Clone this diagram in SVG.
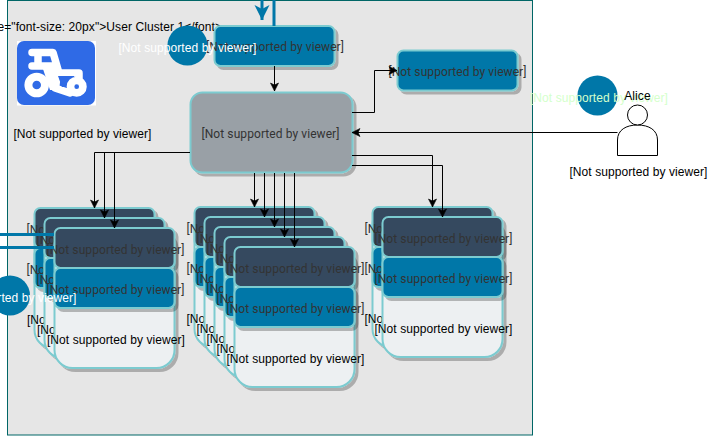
<svg xmlns="http://www.w3.org/2000/svg" width="724" height="436" viewBox="0 0 724 436">
<style>
text{font-family:"Liberation Sans",Arial,sans-serif;font-size:12px;text-anchor:middle;fill:#000;letter-spacing:0.08px}
.r{font-family:Roboto,"Liberation Sans",sans-serif;fill:#333}
.w{fill:#fff}
.g{fill:#d4ffcc}
.box{stroke:#7ccbd0;stroke-width:2;filter:url(#s)}
.lt{fill:#edf0f2}.dk{fill:#34495e}.bl{fill:#0077a8}.gy{fill:#99a0a6}
.c{fill:#0077a8}
.l{fill:none;stroke:#000;stroke-width:1}
.t{fill:none;stroke:#0077a8;stroke-width:3}
</style>
<defs>
<filter id="s" x="-10%" y="-10%" width="125%" height="130%"><feDropShadow dx="3" dy="3" stdDeviation="0.4" flood-color="#000" flood-opacity="0.25"/></filter>
<marker id="a" markerUnits="userSpaceOnUse" markerWidth="10" markerHeight="10" refX="9" refY="5" orient="auto"><path d="M1 1L9 5L1 9L3 5Z" fill="#000" stroke="#000" stroke-width="0.6"/></marker>
<marker id="b" markerUnits="userSpaceOnUse" markerWidth="18" markerHeight="18" refX="15" refY="9" orient="auto"><path d="M0 1.5L15 9L0 16.500L4 9Z" fill="#0077a8"/></marker>
</defs>
<rect id="cluster" x="7.500" y="0.500" width="525" height="434.500" fill="#e6e6e6" stroke="#006666"/>
<text id="cluster-label" x="-2.500" y="31" style="text-anchor:start">e="font-size: 20px"&gt;User Cluster 1&lt;/font&gt;</text>
<g id="icon">
<rect x="17" y="41" width="79" height="64.500" fill="#fff"/>
<rect x="17" y="41" width="78" height="64" rx="7" fill="#2f6ae6"/>
<path d="M42 66H58L61 75L59 90H50Z" fill="#fff"/>
<path d="M32 52.500H53L59 73H79V84M32 66H52L55 88L70 93M38 53V66" fill="none" stroke="#fff" stroke-width="7.500" stroke-linecap="round" stroke-linejoin="round"/>
<path d="M58 76H74V87H62Z" fill="#2f6ae6"/>
<circle cx="36.700" cy="85" r="8.300" fill="#2f6ae6" stroke="#fff" stroke-width="8"/>
<circle cx="76.700" cy="86.700" r="6.200" fill="#2f6ae6" stroke="#fff" stroke-width="7.700"/>
</g>
<text id="icon-label" x="82.500" y="138">[Not supported by viewer]</text>

<g id="stack-a-1"><rect class="box lt" x="34.500" y="208" width="120" height="140" rx="18"/><rect class="box dk" x="34.500" y="208" width="120" height="40" rx="6"/><rect class="box bl" x="34.500" y="248" width="120" height="40" rx="6"/><text class="r" x="95.500" y="234">[Not supported by viewer]</text><text class="r" x="95.500" y="274">[Not supported by viewer]</text><text x="96" y="324">[Not supported by viewer]</text></g>
<g id="stack-a-2"><rect class="box lt" x="44.500" y="218" width="120" height="140" rx="18"/><rect class="box dk" x="44.500" y="218" width="120" height="40" rx="6"/><rect class="box bl" x="44.500" y="258" width="120" height="40" rx="6"/><text class="r" x="105.500" y="244">[Not supported by viewer]</text><text class="r" x="105.500" y="284">[Not supported by viewer]</text><text x="106" y="334">[Not supported by viewer]</text></g>
<g id="stack-a-3"><rect class="box lt" x="54.500" y="228" width="120" height="140" rx="18"/><rect class="box dk" x="54.500" y="228" width="120" height="40" rx="6"/><rect class="box bl" x="54.500" y="268" width="120" height="40" rx="6"/><text class="r" x="115.500" y="254">[Not supported by viewer]</text><text class="r" x="115.500" y="294">[Not supported by viewer]</text><text x="116" y="344">[Not supported by viewer]</text></g>

<g id="stack-b-1"><rect class="box lt" x="194.500" y="207" width="120" height="140" rx="18"/><rect class="box dk" x="194.500" y="207" width="120" height="40" rx="6"/><rect class="box bl" x="194.500" y="247" width="120" height="40" rx="6"/><text class="r" x="255.500" y="233">[Not supported by viewer]</text><text class="r" x="255.500" y="273">[Not supported by viewer]</text><text x="255.500" y="323">[Not supported by viewer]</text></g>
<g id="stack-b-2"><rect class="box lt" x="204.500" y="217" width="120" height="140" rx="18"/><rect class="box dk" x="204.500" y="217" width="120" height="40" rx="6"/><rect class="box bl" x="204.500" y="257" width="120" height="40" rx="6"/><text class="r" x="265.500" y="243">[Not supported by viewer]</text><text class="r" x="265.500" y="283">[Not supported by viewer]</text><text x="265.500" y="333">[Not supported by viewer]</text></g>
<g id="stack-b-3"><rect class="box lt" x="214.500" y="227" width="120" height="140" rx="18"/><rect class="box dk" x="214.500" y="227" width="120" height="40" rx="6"/><rect class="box bl" x="214.500" y="267" width="120" height="40" rx="6"/><text class="r" x="275.500" y="253">[Not supported by viewer]</text><text class="r" x="275.500" y="293">[Not supported by viewer]</text><text x="275.500" y="343">[Not supported by viewer]</text></g>
<g id="stack-b-4"><rect class="box lt" x="224.500" y="237" width="120" height="140" rx="18"/><rect class="box dk" x="224.500" y="237" width="120" height="40" rx="6"/><rect class="box bl" x="224.500" y="277" width="120" height="40" rx="6"/><text class="r" x="285.500" y="263">[Not supported by viewer]</text><text class="r" x="285.500" y="303">[Not supported by viewer]</text><text x="285.500" y="353">[Not supported by viewer]</text></g>
<g id="stack-b-5"><rect class="box lt" x="234.500" y="247" width="120" height="140" rx="18"/><rect class="box dk" x="234.500" y="247" width="120" height="40" rx="6"/><rect class="box bl" x="234.500" y="287" width="120" height="40" rx="6"/><text class="r" x="295.500" y="273">[Not supported by viewer]</text><text class="r" x="295.500" y="313">[Not supported by viewer]</text><text x="295.500" y="363">[Not supported by viewer]</text></g>

<g id="stack-c-1"><rect class="box lt" x="372.500" y="207" width="120" height="140" rx="18"/><rect class="box dk" x="372.500" y="207" width="120" height="40" rx="6"/><rect class="box bl" x="372.500" y="247" width="120" height="40" rx="6"/><text class="r" x="433.500" y="233">[Not supported by viewer]</text><text class="r" x="433.500" y="273">[Not supported by viewer]</text><text x="433.500" y="323">[Not supported by viewer]</text></g>
<g id="stack-c-2"><rect class="box lt" x="382.500" y="217" width="120" height="140" rx="18"/><rect class="box dk" x="382.500" y="217" width="120" height="40" rx="6"/><rect class="box bl" x="382.500" y="257" width="120" height="40" rx="6"/><text class="r" x="443.500" y="243">[Not supported by viewer]</text><text class="r" x="443.500" y="283">[Not supported by viewer]</text><text x="443.500" y="333">[Not supported by viewer]</text></g>

<g id="top-box"><rect class="box bl" x="214.500" y="26" width="120" height="40" rx="6"/><text class="r" x="275" y="51">[Not supported by viewer]</text></g>
<g id="hub"><rect class="box gy" x="190.500" y="92.500" width="162" height="80" rx="12"/><text class="r" x="270.500" y="138">[Not supported by viewer]</text></g>
<g id="right-box"><rect class="box bl" x="397.500" y="50.500" width="120" height="40" rx="6"/><text class="r" x="457.500" y="76">[Not supported by viewer]</text></g>

<g id="connectors">
<path class="t" d="M262 0V20" marker-end="url(#b)"/>
<path class="t" d="M274 0V26"/>
<path class="t" d="M0 234.500H54"/>
<path class="t" d="M0 247.500H54"/>
<path class="l" d="M274.500 66V91" marker-end="url(#a)"/>
<path class="l" d="M190 152.500H94.500V208" marker-end="url(#a)"/>
<path class="l" d="M190 152.500H104.500V218" marker-end="url(#a)"/>
<path class="l" d="M190 152.500H114.500V228" marker-end="url(#a)"/>
<path class="l" d="M254.500 173V207" marker-end="url(#a)"/>
<path class="l" d="M264.500 173V217" marker-end="url(#a)"/>
<path class="l" d="M274.500 173V227" marker-end="url(#a)"/>
<path class="l" d="M284.500 173V237" marker-end="url(#a)"/>
<path class="l" d="M294.500 173V247" marker-end="url(#a)"/>
<path class="l" d="M352 112.500H374.500V70.500H397" marker-end="url(#a)"/>
<path class="l" d="M352 155.500H432.500V207" marker-end="url(#a)"/>
<path class="l" d="M352 165.500H442.500V217" marker-end="url(#a)"/>
<path class="l" d="M617.500 132.500H352" marker-end="url(#a)"/>
</g>

<g id="badge-1"><circle class="c" cx="187.500" cy="45.500" r="20"/><text class="w" x="187.500" y="52">[Not supported by viewer]</text></g>
<g id="badge-2"><circle class="c" cx="10" cy="295.500" r="20"/><text class="w" x="7.500" y="302">[Not supported by viewer]</text></g>
<g id="alice">
<path d="M617.500 155.500V140C617.500 130 626 125 637.500 125C649 125 657.500 130 657.500 140V155.500Z" fill="#fff" stroke="#000"/>
<circle cx="637.500" cy="115" r="10" fill="#fff" stroke="#000"/>
<circle class="c" cx="597.500" cy="95.500" r="20"/>
<text class="g" x="599" y="102">[Not supported by viewer]</text>
<text x="637.500" y="100">Alice</text>
<text x="638.500" y="176">[Not supported by viewer]</text>
</g>
</svg>
